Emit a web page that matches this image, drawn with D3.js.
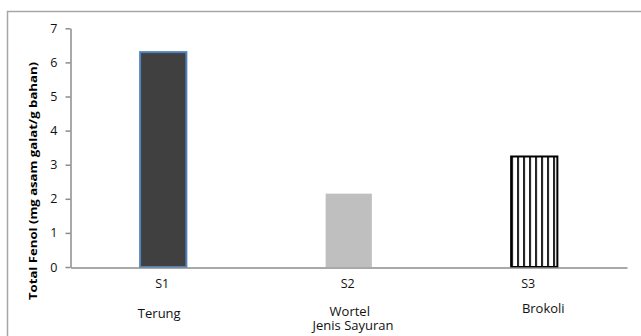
<!DOCTYPE html>
<html><head><meta charset="utf-8">
<script src="https://cdn.jsdelivr.net/npm/d3@7"></script>
<style>html,body{margin:0;padding:0;background:#fff;overflow:hidden}</style>
</head><body><svg id="c" width="641" height="336"></svg>
<script>
const codes = ["S1", "S2", "S3"];
const names = ["Terung", "Wortel", "Brokoli"];
const values = [6.33, 2.18, 3.27];
const yTicks = [0, 1, 2, 3, 4, 5, 6, 7];
const yLabel = "Total Fenol (mg asam galat/g bahan)";
const xTitle = "Jenis Sayuran";

const svg = d3.select("#c");
const font = "'Open Sans', 'Noto Sans', sans-serif";

// outer frame (cut at right/bottom)
svg.append("rect").attr("x", 7.5).attr("y", 11.5).attr("width", 700).attr("height", 400)
  .attr("fill", "none").attr("stroke", "#a6a6a6").attr("stroke-width", 1.5);

const x = d3.scaleBand().domain(codes).range([70.5, 627]).paddingInner(0.74).paddingOuter(0.37);
const y = d3.scaleLinear().domain([0, 7]).range([267, 28.3]);

const defs = svg.append("defs");
const pat = defs.append("pattern").attr("id", "vlines").attr("patternUnits", "userSpaceOnUse")
  .attr("width", 6).attr("height", 10).attr("x", x("S3") + 1);
pat.append("rect").attr("width", 6).attr("height", 10).attr("fill", "#fff");
pat.append("rect").attr("x", 0).attr("width", 1.8).attr("height", 10).attr("fill", "#000");

const fills = ["#404040", "#bfbfbf", "url(#vlines)"];
const strokes = ["#4f81bd", "none", "#000"];

svg.append("g").selectAll("rect").data(values).join("rect")
  .attr("x", (d, i) => x(codes[i]) + 1)
  .attr("width", x.bandwidth() - 2)
  .attr("y", d => y(d) + 1)
  .attr("height", d => y(0) - y(d) - 1)
  .attr("fill", (d, i) => fills[i])
  .attr("stroke", (d, i) => strokes[i])
  .attr("stroke-width", 2);

// y axis
const ya = svg.append("g").attr("transform", "translate(70.5,0)")
  .call(d3.axisLeft(y).tickValues(yTicks).tickFormat(d3.format("d")).tickSize(5).tickSizeOuter(0).tickPadding(8));
ya.select(".domain").attr("stroke", "#8c8c8c").attr("stroke-width", 1.5);
ya.selectAll(".tick line").attr("stroke", "#8c8c8c").attr("stroke-width", 1.5);
ya.selectAll(".tick text").attr("font-family", font).attr("font-size", 12.5).attr("fill", "#111");

// x axis
const xa = svg.append("g").attr("transform", "translate(0,267.5)")
  .call(d3.axisBottom(x).tickSize(0).tickSizeOuter(0).tickPadding(12));
xa.select(".domain").attr("stroke", "#8c8c8c").attr("stroke-width", 1.5);
xa.selectAll(".tick text").attr("font-family", font).attr("font-size", 12.5).attr("fill", "#111")
  .attr("dx", (d, i) => [-1, -1, -6][i]);

// category names
const nameY = [317.5, 315.5, 312.7];
const nameDx = [-4, 1, 9];
svg.append("g").selectAll("text").data(names).join("text")
  .attr("x", (d, i) => x(codes[i]) + x.bandwidth() / 2 + nameDx[i])
  .attr("y", (d, i) => nameY[i])
  .attr("text-anchor", "middle").attr("font-family", font).attr("font-size", 13).attr("fill", "#111")
  .text(d => d);

svg.append("text").attr("x", 353).attr("y", 329.5).attr("text-anchor", "middle")
  .attr("font-family", font).attr("font-size", 13).attr("fill", "#111").text(xTitle);

// y label (stacked/compressed)
svg.append("text").attr("transform", "translate(37,181) rotate(-90)")
  .attr("text-anchor", "middle").attr("font-family", font).attr("font-size", 11).attr("font-weight", "bold")
  .attr("fill", "#000").attr("textLength", 238).attr("lengthAdjust", "spacingAndGlyphs").text(yLabel);
</script></body></html>
